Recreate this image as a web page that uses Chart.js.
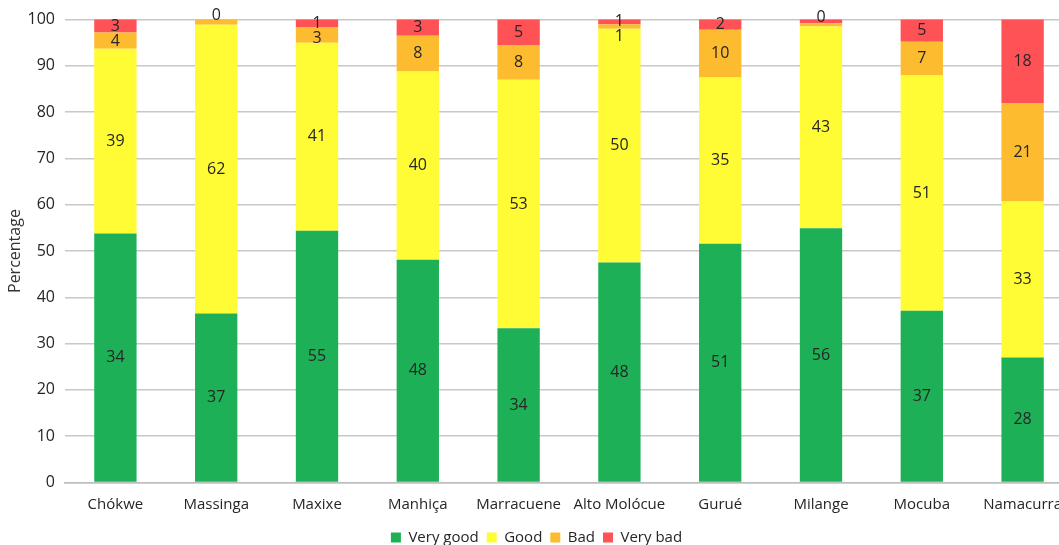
<!DOCTYPE html>
<html>
<head>
<meta charset="utf-8">
<script src="https://cdn.jsdelivr.net/npm/chart.js@4.4.1/dist/chart.umd.min.js"></script>
<style>
  html, body { margin: 0; padding: 0; background: #fff; overflow: hidden; }
  #wrap { position: relative; width: 1074px; height: 555px; }
</style>
</head>
<body>
<div id="wrap"><canvas id="rating-chart"></canvas></div>
<script>
const districts = ["Chókwe", "Massinga", "Maxixe", "Manhiça", "Marracuene", "Alto Molócue", "Gurué", "Milange", "Mocuba", "Namacurra"];

// bar heights (percent)
const veryGood = [53.8, 36.5, 54.4, 48.1, 33.3, 47.5, 51.6, 54.9, 37.1, 27.0];
const good     = [39.9, 62.4, 40.6, 40.7, 53.7, 50.5, 35.9, 43.6, 50.8, 33.7];
const bad      = [3.5, 1.1, 3.3, 7.7, 7.4, 1.0, 10.3, 0.7, 7.3, 21.3];
const veryBad  = [2.8, 0, 1.7, 3.5, 5.6, 1.0, 2.2, 0.8, 4.8, 18.0];

// labels printed inside the bars
const veryGoodLabels = ["34", "37", "55", "48", "34", "48", "51", "56", "37", "28"];
const goodLabels     = ["39", "62", "41", "40", "53", "50", "35", "43", "51", "33"];
const badLabels      = ["4", "", "3", "8", "8", "1", "10", "", "7", "21"];
const veryBadLabels  = ["3", "0", "1", "3", "5", "1", "2", "0", "5", "18"];

const yTicks = [0, 10, 20, 30, 40, 50, 60, 70, 80, 90, 100];

const FONT = "'Open Sans', 'Noto Sans', sans-serif";
const TEXT = '#262626';

// draws the numbers in the middle of each segment, pushing close ones apart
const segmentLabels = {
  id: 'segmentLabels',
  afterDatasetsDraw(chart) {
    const ctx = chart.ctx;
    ctx.save();
    ctx.font = '16px ' + FONT;
    ctx.fillStyle = TEXT;
    ctx.textAlign = 'center';
    ctx.textBaseline = 'middle';
    const n = chart.data.labels.length;
    for (let i = 0; i < n; i++) {
      let prevY = -1000;
      for (let d = chart.data.datasets.length - 1; d >= 0; d--) {
        const ds = chart.data.datasets[d];
        const txt = ds.segLabels[i];
        const bar = chart.getDatasetMeta(d).data[i];
        if (!txt || !bar) continue;
        let y = (bar.y + bar.base) / 2;
        if (d === chart.data.datasets.length - 1 && bar.base - bar.y < 4) y -= 4;
        if (y < prevY + 15) y = prevY + 15;
        ctx.fillText(txt, bar.x, y);
        prevY = y;
      }
    }
    ctx.restore();
  }
};

const ctx = document.getElementById('rating-chart').getContext('2d');

const ratingChart = new Chart(ctx, {
  type: 'bar',
  data: {
    labels: districts,
    datasets: [
      { label: 'Very good', data: veryGood, segLabels: veryGoodLabels, backgroundColor: 'rgb(29, 176, 86)' },
      { label: 'Good', data: good, segLabels: goodLabels, backgroundColor: 'rgb(255, 251, 52)' },
      { label: 'Bad', data: bad, segLabels: badLabels, backgroundColor: 'rgb(253, 187, 48)' },
      { label: 'Very bad', data: veryBad, segLabels: veryBadLabels, backgroundColor: 'rgb(255, 82, 87)' }
    ]
  },
  options: {
    responsive: true,
    maintainAspectRatio: false,
    animation: false,
    layout: { padding: { top: 8, right: 1, bottom: 0, left: 0 } },
    datasets: {
      bar: { categoryPercentage: 1, barPercentage: 0.42, borderWidth: 0, clip: false }
    },
    scales: {
      x: {
        stacked: true,
        grid: { display: false },
        border: { color: '#bdbdbd', width: 1.5 },
        afterFit: (scale) => { scale.height = 39.5; },
        ticks: { color: TEXT, font: { family: FONT, size: 15 }, padding: 5, maxRotation: 0, autoSkip: false }
      },
      y: {
        stacked: true,
        min: 0,
        max: 100,
        afterBuildTicks: (scale) => { scale.ticks = yTicks.map(v => ({ value: v })); },
        afterFit: (scale) => { scale.width = 65; },
        grid: { color: '#c8c8c8', lineWidth: 1.5, drawTicks: false },
        border: { display: false },
        title: { display: true, text: 'Percentage', color: '#333', font: { family: FONT, size: 16 }, padding: { top: 6, bottom: 0 } },
        ticks: { color: TEXT, font: { family: FONT, size: 16 }, padding: 10 }
      }
    },
    plugins: {
      legend: {
        display: true,
        position: 'bottom',
        labels: { boxWidth: 10, boxHeight: 10, padding: 8, color: TEXT, font: { family: FONT, size: 15 } }
      },
      tooltip: { enabled: false }
    }
  },
  plugins: [segmentLabels]
});
</script>
</body>
</html>
